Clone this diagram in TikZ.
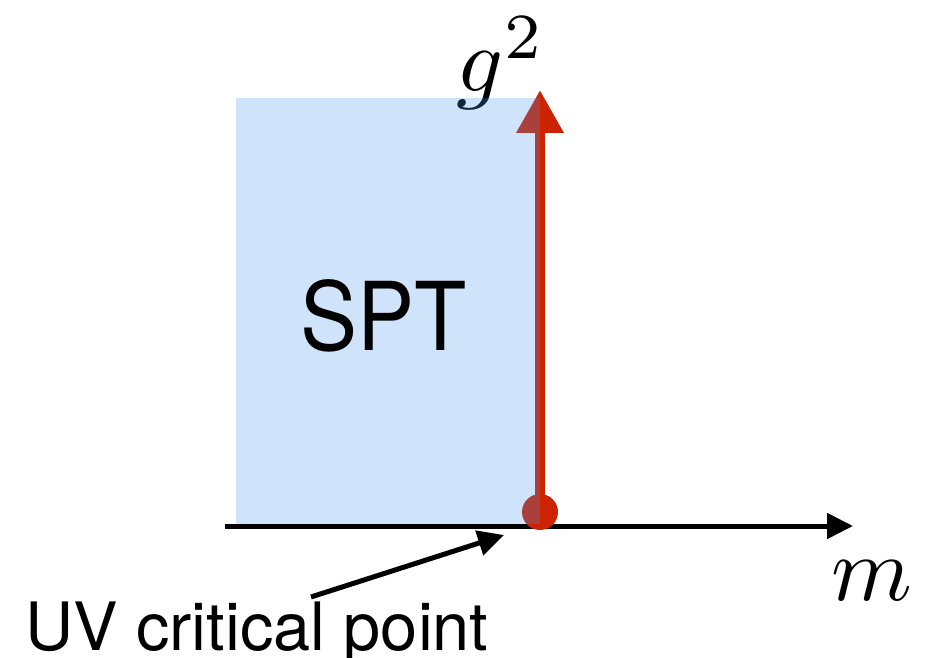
\documentclass[tikz,border=0pt]{standalone}
\usepackage{fontspec}
\usetikzlibrary{arrows.meta}
\newfontfamily\helv{TeX Gyre Heros}
\definecolor{redaxis}{RGB}{205,35,0}
\definecolor{spblue}{RGB}{70,150,235}
\tikzset{
  axisline/.style={line width=5pt, -{Triangle[length=26pt,width=25pt]}},
  redarrow/.style={redaxis, line width=10pt, -{Triangle[length=43pt,width=45pt]}},
  sptregion/.style={fill=spblue, fill opacity=0.26},
  mathlabel/.style={inner sep=0pt, scale=9.2},
  sanslabel/.style={inner sep=0pt, font=\helv\fontsize{66.7}{70}\selectfont}
}
\begin{document}
\begin{tikzpicture}[x=1pt,y=-1pt]
\useasboundingbox (0,0) rectangle (943,658);
% coordinates
\coordinate (axL) at (225,526);
\coordinate (axR) at (853,526);
\coordinate (gtip) at (540,90);
\coordinate (rectTL) at (236,98);
\coordinate (rectBR) at (540,524);
\coordinate (uvstart) at (311,597);
\coordinate (uvtip) at (504,535);
% horizontal axis
\draw[axisline] (axL) -- (axR);
% red vertical arrow and UV dot
\node[circle, fill=redaxis, minimum size=36pt, inner sep=0pt] (dot) at (540,512) {};
\draw[redarrow] (dot.center) -- (gtip);
% g^2 label
\node[mathlabel, anchor=base west] (glabel) at (455,92) {$g^2$};
% SPT region
\fill[sptregion] (rectTL) rectangle (rectBR);
\node[inner sep=0pt, anchor=base west, xscale=0.9, font=\helv\fontsize{95}{100}\selectfont] (spt) at (300,350) {SPT};
% m label
\node[mathlabel, anchor=base west] (mlabel) at (830,600) {$m$};
% UV critical point
\node[sanslabel, anchor=base west] (uv) at (25,650) {UV critical point};
\draw[line width=5pt, -{Triangle[length=26pt,width=25pt]}] (uvstart) -- (uvtip);
\end{tikzpicture}
\end{document}
